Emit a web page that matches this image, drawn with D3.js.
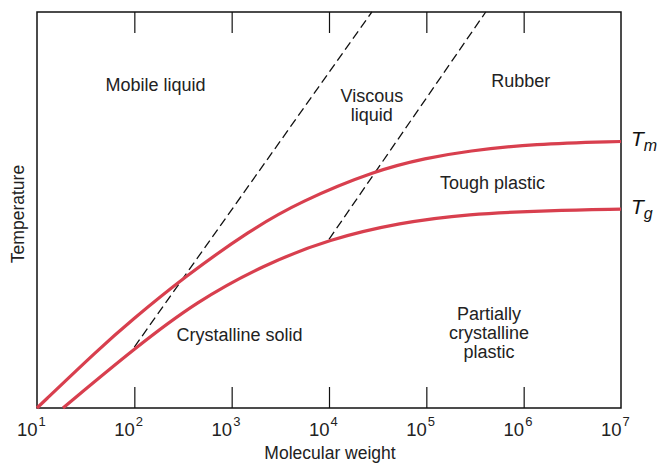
<!DOCTYPE html>
<html>
<head>
<meta charset="utf-8">
<script src="https://cdn.jsdelivr.net/npm/d3@7"></script>
<style>
  html, body { margin: 0; padding: 0; background: #fff; }
  svg { display: block; }
  text { font-family: "Liberation Sans", Arial, sans-serif; fill: #222; }
</style>
</head>
<body>
<svg id="chart" width="657" height="464"></svg>
<script>
// ---- data ----
const decadeExponents = [1, 2, 3, 4, 5, 6, 7];
const tmLogM = [1.0, 1.647, 1.955, 2.52, 3.19, 3.70, 4.49, 5.0, 5.42, 6.1, 7.0];
const tmTemp = [0, 15.15, 21.8, 33.2, 44.9, 52.1, 60.1, 63.1, 64.9, 66.7, 67.3];
const tgLogM = [1.267, 2.024, 2.641, 3.325, 4.01, 4.73, 5.42, 6.27, 7.0];
const tgTemp = [0, 15.5, 26.9, 36.1, 42.7, 46.8, 49.0, 49.9, 50.2];
const dash1LogM = [2.0, 4.44];
const dash1Temp = [15.4, 100];
const dash2LogM = [4.0, 5.61];
const dash2Temp = [42.6, 100];
const regionLabels = [
  { lines: ["Mobile liquid"], logM: 2.217, temp: 80 },
  { lines: ["Viscous", "liquid"], logM: 4.44, temp: 77.3 },
  { lines: ["Rubber"], logM: 5.97, temp: 81 },
  { lines: ["Tough plastic"], logM: 5.68, temp: 55.3 },
  { lines: ["Crystalline solid"], logM: 3.08, temp: 16.8 },
  { lines: ["Partially", "crystalline", "plastic"], logM: 5.645, temp: 22.2 }
];
const curveLabels = [
  { base: "T", sub: "m", temp: 66.8 },
  { base: "T", sub: "g", temp: 49.8 }
];
const xTitle = "Molecular weight";
const yTitle = "Temperature";

// ---- drawing ----
const svg = d3.select("#chart");
const x = d3.scaleLog().domain([10, 1e7]).range([37, 621]);
const y = d3.scaleLinear().domain([0, 100]).range([408, 12]);
const red = "#d83f4e";

// frame
svg.append("rect")
  .attr("x", x.range()[0]).attr("y", y.range()[1])
  .attr("width", x.range()[1] - x.range()[0])
  .attr("height", y.range()[0] - y.range()[1])
  .attr("fill", "none").attr("stroke", "#111").attr("stroke-width", 1.5);

// inner ticks bottom and top
const innerTicks = decadeExponents.slice(1, -1).map(e => Math.pow(10, e));
const bottomAxis = d3.axisBottom(x).tickValues(innerTicks).tickSizeInner(-21).tickSizeOuter(0).tickFormat("");
const topAxis = d3.axisTop(x).tickValues(innerTicks).tickSizeInner(-21).tickSizeOuter(0).tickFormat("");
const gb = svg.append("g").attr("transform", `translate(0,${y.range()[0]})`).call(bottomAxis);
const gt = svg.append("g").attr("transform", `translate(0,${y.range()[1]})`).call(topAxis);
[gb, gt].forEach(g => {
  g.select(".domain").remove();
  g.selectAll(".tick line").attr("stroke", "#111").attr("stroke-width", 1.2);
});

// tick labels 10^n
const lab = svg.append("g");
decadeExponents.forEach(e => {
  const px = x(Math.pow(10, e));
  lab.append("text").attr("x", px + 0.5).attr("y", 436)
    .attr("text-anchor", "end").attr("font-size", 18.5).text("10");
  lab.append("text").attr("x", px + 1.5).attr("y", 426)
    .attr("text-anchor", "start").attr("font-size", 13).text(String(e));
});

// titles
svg.append("text").attr("x", 330).attr("y", 459).attr("text-anchor", "middle")
  .attr("font-size", 17.5).text(xTitle);
svg.append("text").attr("transform", `translate(24,214) rotate(-90)`)
  .attr("text-anchor", "middle").attr("font-size", 17.5).text(yTitle);

// dashed lines
const line = d3.line().x(d => x(Math.pow(10, d[0]))).y(d => y(d[1]));
[[dash1LogM, dash1Temp], [dash2LogM, dash2Temp]].forEach(([lm, tt]) => {
  svg.append("path").datum(lm.map((v, i) => [v, tt[i]]))
    .attr("d", line).attr("fill", "none").attr("stroke", "#111")
    .attr("stroke-width", 1.3).attr("stroke-dasharray", "9,4.5");
});

// curves
const curve = d3.line().x(d => x(Math.pow(10, d[0]))).y(d => y(d[1])).curve(d3.curveBasis);
[[tmLogM, tmTemp], [tgLogM, tgTemp]].forEach(([lm, tt]) => {
  svg.append("path").datum(lm.map((v, i) => [v, tt[i]]))
    .attr("d", curve).attr("fill", "none").attr("stroke", red)
    .attr("stroke-width", 3.2).attr("stroke-linecap", "butt");
});

// region labels
regionLabels.forEach(r => {
  const t = svg.append("text").attr("text-anchor", "middle").attr("font-size", 18)
    .attr("x", x(Math.pow(10, r.logM))).attr("y", y(r.temp));
  r.lines.forEach((s, i) => {
    t.append("tspan").attr("x", x(Math.pow(10, r.logM))).attr("dy", i === 0 ? 0 : 19).text(s);
  });
});

// curve labels
curveLabels.forEach(c => {
  const t = svg.append("text").attr("x", 631).attr("y", y(c.temp) + 3)
    .attr("font-family", "'Liberation Serif', 'DejaVu Serif', serif")
    .attr("font-style", "italic").attr("font-size", 21).style("fill", "#111");
  t.append("tspan").text(c.base);
  t.append("tspan").attr("font-size", 16).attr("dy", 5).text(c.sub);
});
</script>
</body>
</html>
